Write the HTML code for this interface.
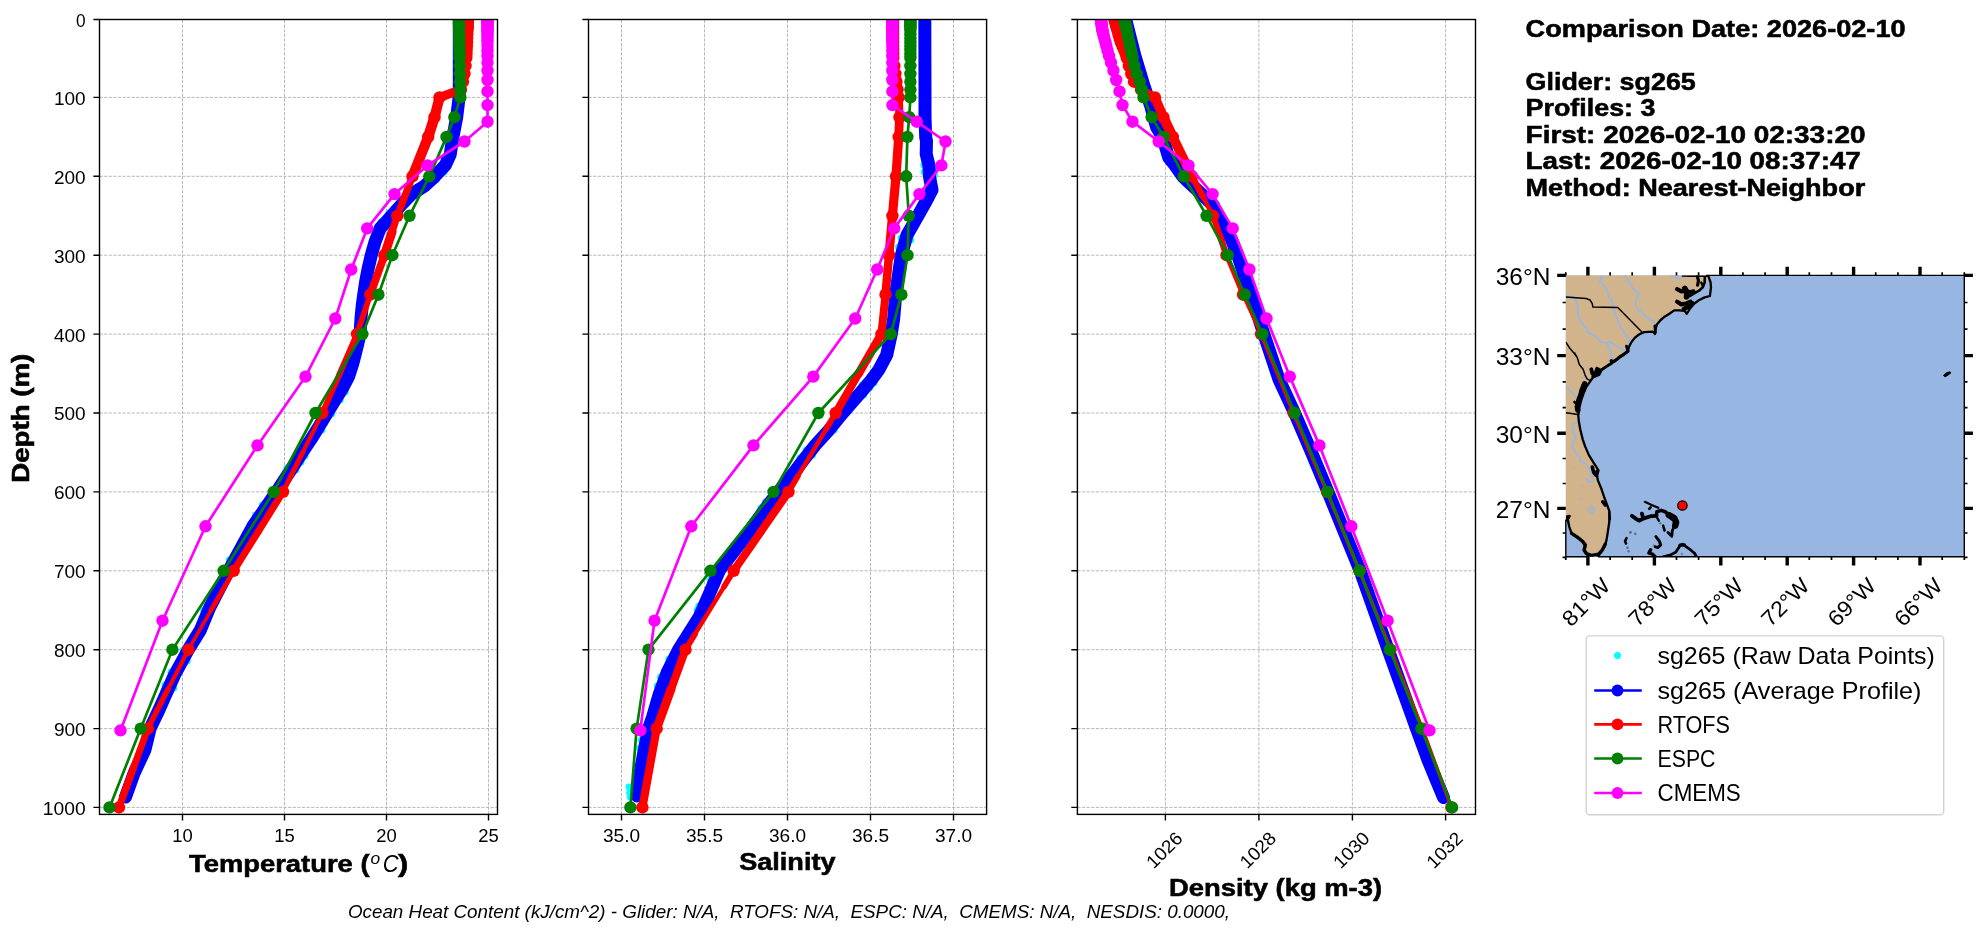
<!DOCTYPE html>
<html><head><meta charset="utf-8"><title>Glider vs Model Profile Comparison</title>
<style>
html,body{margin:0;padding:0;background:#fff;}
body{width:1976px;height:934px;overflow:hidden;font-family:"Liberation Sans", sans-serif;}
svg{display:block;font-family:"Liberation Sans", sans-serif;}
svg{will-change:transform;}
</style></head><body>
<svg width="1976" height="934" viewBox="0 0 1976 934">
<rect width="1976" height="934" fill="#fff"/>
<clipPath id="c1"><rect x="99.5" y="19.5" width="398" height="794.9"/></clipPath>
<path d="M99.5 97.4H497.5M99.5 176.3H497.5M99.5 255.2H497.5M99.5 334.1H497.5M99.5 413H497.5M99.5 491.9H497.5M99.5 570.8H497.5M99.5 649.7H497.5M99.5 728.6H497.5M99.5 807.4H497.5M182.5 814.4V19.5M284.5 814.4V19.5M386.5 814.4V19.5M488.5 814.4V19.5" stroke="#b0b0b0" stroke-width="0.9" stroke-dasharray="3.2 1.4" fill="none"/>
<g clip-path="url(#c1)"><circle cx="287.1" cy="468" r="3.6" fill="#00ffff"/><circle cx="295.8" cy="470" r="3.6" fill="#00ffff"/><circle cx="262.4" cy="505" r="3.6" fill="#00ffff"/><circle cx="255.6" cy="515" r="3.6" fill="#00ffff"/><circle cx="345.1" cy="392" r="3.6" fill="#00ffff"/><circle cx="340.1" cy="400" r="3.6" fill="#00ffff"/><circle cx="331.5" cy="414" r="3.6" fill="#00ffff"/><circle cx="321.8" cy="430" r="3.6" fill="#00ffff"/><circle cx="304.9" cy="456" r="3.6" fill="#00ffff"/><circle cx="301" cy="462" r="3.6" fill="#00ffff"/><circle cx="443.9" cy="172" r="3.6" fill="#00ffff"/><circle cx="435.9" cy="180" r="3.6" fill="#00ffff"/><circle cx="203.7" cy="610" r="3.6" fill="#00ffff"/><circle cx="187.1" cy="661" r="3.6" fill="#00ffff"/><circle cx="171.1" cy="672" r="3.6" fill="#00ffff"/><circle cx="165" cy="685" r="3.6" fill="#00ffff"/><circle cx="173.7" cy="688" r="3.6" fill="#00ffff"/><circle cx="210.1" cy="597" r="3.6" fill="#00ffff"/><circle cx="229.4" cy="560" r="3.6" fill="#00ffff"/><circle cx="389" cy="213" r="3.6" fill="#00ffff"/><circle cx="381" cy="222" r="3.6" fill="#00ffff"/><circle cx="183.2" cy="650" r="3.6" fill="#00ffff"/></g>
<polyline clip-path="url(#c1)" points="459.3,19.5 459.3,90 458.8,100 456.7,117.3 452.9,137.2 450.2,154.5 445.4,165 435,176.2 424.5,186 411.7,194 402,204 394,213 386,222 380.2,228.2 375,242 371.2,255.5 368,269.3 365.5,282.4 363.8,294.1 362.3,305 361,318.4 360,334.2 356.9,347.5 353.1,362.5 348.6,376.4 342.6,388 335.1,400 326.9,413.4 318.7,427 311.2,439 302.2,452.4 295.4,463 276.7,491.5 252.7,526.5 228.7,570.5 209.7,607.5 200.4,630 188.7,649 174.5,675 164.5,697.4 159.2,709.4 150.2,728.2 144.9,750 134.4,772.4 125.5,797" fill="none" stroke="#0000ff" stroke-width="13" stroke-linejoin="round" stroke-linecap="round"/>
<g clip-path="url(#c1)" stroke="#ff0000" stroke-linecap="round" fill="none"><line x1="468" y1="18.6" x2="463" y2="81.7" stroke-width="3"/><line x1="463" y1="81.7" x2="461" y2="89.6" stroke-width="5.5"/><line x1="461" y1="89.6" x2="439.5" y2="97.4" stroke-width="9"/><line x1="439.5" y1="97.4" x2="434.5" y2="117.2" stroke-width="10.2"/><line x1="434.5" y1="117.2" x2="428.2" y2="136.9" stroke-width="10.5"/><line x1="428.2" y1="136.9" x2="412.5" y2="176.3" stroke-width="10.2"/><line x1="412.5" y1="176.3" x2="400.3" y2="207.9" stroke-width="7.2"/><line x1="400.3" y1="207.9" x2="397.3" y2="215.8" stroke-width="4.8"/><line x1="397.3" y1="215.8" x2="392.1" y2="231.6" stroke-width="7"/><line x1="392.1" y1="231.6" x2="384.4" y2="255.2" stroke-width="9"/><line x1="384.4" y1="255.2" x2="370.2" y2="294.7" stroke-width="7.8"/><line x1="370.2" y1="294.7" x2="357" y2="334.1" stroke-width="5.8"/><line x1="357" y1="334.1" x2="339.7" y2="373.6" stroke-width="6"/><line x1="339.7" y1="373.6" x2="322.4" y2="413" stroke-width="5.8"/><line x1="322.4" y1="413" x2="302.7" y2="452.4" stroke-width="4.2"/><line x1="302.7" y1="452.4" x2="283" y2="491.9" stroke-width="5"/><line x1="283" y1="491.9" x2="258.4" y2="531.3" stroke-width="7"/><line x1="258.4" y1="531.3" x2="233.7" y2="570.8" stroke-width="7"/><line x1="233.7" y1="570.8" x2="211.1" y2="610.2" stroke-width="4.8"/><line x1="211.1" y1="610.2" x2="188.4" y2="649.7" stroke-width="3.5"/><line x1="188.4" y1="649.7" x2="168.1" y2="689.1" stroke-width="4.2"/><line x1="168.1" y1="689.1" x2="147.8" y2="728.6" stroke-width="5.5"/><line x1="147.8" y1="728.6" x2="133.4" y2="768" stroke-width="6.8"/><line x1="133.4" y1="768" x2="119" y2="807.4" stroke-width="7.2"/></g>
<g clip-path="url(#c1)"><polyline points="468,18.6 467.9,20.1 467.9,21.7 467.8,23.3 467.7,24.9 467.7,26.4 467.6,28 467.5,30.4 467.3,34.3 467.1,38.3 467,42.2 466.8,46.2 466.6,50.1 466.5,54.1 466.3,58 465.5,65.9 464.5,73.8 463,81.7 461,89.6 439.5,97.4 434.5,117.2 428.2,136.9 412.5,176.3 397.3,215.8 384.4,255.2 370.2,294.7 357,334.1 322.4,413 283,491.9 233.7,570.8 188.4,649.7 147.8,728.6 119,807.4" fill="none" stroke="#ff0000" stroke-width="2.7" stroke-linejoin="round"/>
<circle cx="468" cy="18.6" r="6.2" fill="#ff0000"/><circle cx="467.9" cy="20.1" r="6.2" fill="#ff0000"/><circle cx="467.9" cy="21.7" r="6.2" fill="#ff0000"/><circle cx="467.8" cy="23.3" r="6.2" fill="#ff0000"/><circle cx="467.7" cy="24.9" r="6.2" fill="#ff0000"/><circle cx="467.7" cy="26.4" r="6.2" fill="#ff0000"/><circle cx="467.6" cy="28" r="6.2" fill="#ff0000"/><circle cx="467.5" cy="30.4" r="6.2" fill="#ff0000"/><circle cx="467.3" cy="34.3" r="6.2" fill="#ff0000"/><circle cx="467.1" cy="38.3" r="6.2" fill="#ff0000"/><circle cx="467" cy="42.2" r="6.2" fill="#ff0000"/><circle cx="466.8" cy="46.2" r="6.2" fill="#ff0000"/><circle cx="466.6" cy="50.1" r="6.2" fill="#ff0000"/><circle cx="466.5" cy="54.1" r="6.2" fill="#ff0000"/><circle cx="466.3" cy="58" r="6.2" fill="#ff0000"/><circle cx="465.5" cy="65.9" r="6.2" fill="#ff0000"/><circle cx="464.5" cy="73.8" r="6.2" fill="#ff0000"/><circle cx="463" cy="81.7" r="6.2" fill="#ff0000"/><circle cx="461" cy="89.6" r="6.2" fill="#ff0000"/><circle cx="439.5" cy="97.4" r="6.2" fill="#ff0000"/><circle cx="434.5" cy="117.2" r="6.2" fill="#ff0000"/><circle cx="428.2" cy="136.9" r="6.2" fill="#ff0000"/><circle cx="412.5" cy="176.3" r="6.2" fill="#ff0000"/><circle cx="397.3" cy="215.8" r="6.2" fill="#ff0000"/><circle cx="384.4" cy="255.2" r="6.2" fill="#ff0000"/><circle cx="370.2" cy="294.7" r="6.2" fill="#ff0000"/><circle cx="357" cy="334.1" r="6.2" fill="#ff0000"/><circle cx="322.4" cy="413" r="6.2" fill="#ff0000"/><circle cx="283" cy="491.9" r="6.2" fill="#ff0000"/><circle cx="233.7" cy="570.8" r="6.2" fill="#ff0000"/><circle cx="188.4" cy="649.7" r="6.2" fill="#ff0000"/><circle cx="147.8" cy="728.6" r="6.2" fill="#ff0000"/><circle cx="119" cy="807.4" r="6.2" fill="#ff0000"/></g>
<g clip-path="url(#c1)"><polyline points="458.9,18.6 458.9,20.1 459,21.7 459,23.3 459,24.9 459,26.4 459.1,28 459.1,30.4 459.2,34.3 459.3,38.3 459.3,42.2 459.4,46.2 459.5,50.1 459.6,54.1 459.6,58 459.8,65.9 459.9,73.8 460.1,81.7 460.2,89.6 460.4,97.4 454.4,117.2 446.5,136.9 429.3,176.3 409.5,215.8 392.4,255.2 378.4,294.7 362.4,334.1 315.5,413 273.7,491.9 223.6,570.8 172.4,649.7 140.7,728.6 109.5,807.4" fill="none" stroke="#008000" stroke-width="2.7" stroke-linejoin="round"/>
<circle cx="458.9" cy="18.6" r="6.2" fill="#008000"/><circle cx="458.9" cy="20.1" r="6.2" fill="#008000"/><circle cx="459" cy="21.7" r="6.2" fill="#008000"/><circle cx="459" cy="23.3" r="6.2" fill="#008000"/><circle cx="459" cy="24.9" r="6.2" fill="#008000"/><circle cx="459" cy="26.4" r="6.2" fill="#008000"/><circle cx="459.1" cy="28" r="6.2" fill="#008000"/><circle cx="459.1" cy="30.4" r="6.2" fill="#008000"/><circle cx="459.2" cy="34.3" r="6.2" fill="#008000"/><circle cx="459.3" cy="38.3" r="6.2" fill="#008000"/><circle cx="459.3" cy="42.2" r="6.2" fill="#008000"/><circle cx="459.4" cy="46.2" r="6.2" fill="#008000"/><circle cx="459.5" cy="50.1" r="6.2" fill="#008000"/><circle cx="459.6" cy="54.1" r="6.2" fill="#008000"/><circle cx="459.6" cy="58" r="6.2" fill="#008000"/><circle cx="459.8" cy="65.9" r="6.2" fill="#008000"/><circle cx="459.9" cy="73.8" r="6.2" fill="#008000"/><circle cx="460.1" cy="81.7" r="6.2" fill="#008000"/><circle cx="460.2" cy="89.6" r="6.2" fill="#008000"/><circle cx="460.4" cy="97.4" r="6.2" fill="#008000"/><circle cx="454.4" cy="117.2" r="6.2" fill="#008000"/><circle cx="446.5" cy="136.9" r="6.2" fill="#008000"/><circle cx="429.3" cy="176.3" r="6.2" fill="#008000"/><circle cx="409.5" cy="215.8" r="6.2" fill="#008000"/><circle cx="392.4" cy="255.2" r="6.2" fill="#008000"/><circle cx="378.4" cy="294.7" r="6.2" fill="#008000"/><circle cx="362.4" cy="334.1" r="6.2" fill="#008000"/><circle cx="315.5" cy="413" r="6.2" fill="#008000"/><circle cx="273.7" cy="491.9" r="6.2" fill="#008000"/><circle cx="223.6" cy="570.8" r="6.2" fill="#008000"/><circle cx="172.4" cy="649.7" r="6.2" fill="#008000"/><circle cx="140.7" cy="728.6" r="6.2" fill="#008000"/><circle cx="109.5" cy="807.4" r="6.2" fill="#008000"/></g>
<g clip-path="url(#c1)"><polyline points="487.5,18.9 487.5,19.8 487.5,20.7 487.5,21.6 487.5,22.6 487.5,23.6 487.5,24.8 487.5,26.1 487.5,27.6 487.5,29.2 487.5,31 487.5,33.2 487.5,35.6 487.5,38.4 487.5,41.8 487.5,45.7 487.5,50.4 487.5,56 487.5,62.6 487.5,70.5 487.5,80 487.5,91.4 487.5,105.1 487.5,121.7 464.5,141.5 427.5,165.4 394.5,194.1 367.2,228.4 351.2,269.5 335.3,318.5 305.5,376.6 257.5,445.4 205.5,526.3 162.5,620.7 120.5,730.4" fill="none" stroke="#ff00ff" stroke-width="2.7" stroke-linejoin="round"/>
<circle cx="487.5" cy="18.9" r="6.2" fill="#ff00ff"/><circle cx="487.5" cy="19.8" r="6.2" fill="#ff00ff"/><circle cx="487.5" cy="20.7" r="6.2" fill="#ff00ff"/><circle cx="487.5" cy="21.6" r="6.2" fill="#ff00ff"/><circle cx="487.5" cy="22.6" r="6.2" fill="#ff00ff"/><circle cx="487.5" cy="23.6" r="6.2" fill="#ff00ff"/><circle cx="487.5" cy="24.8" r="6.2" fill="#ff00ff"/><circle cx="487.5" cy="26.1" r="6.2" fill="#ff00ff"/><circle cx="487.5" cy="27.6" r="6.2" fill="#ff00ff"/><circle cx="487.5" cy="29.2" r="6.2" fill="#ff00ff"/><circle cx="487.5" cy="31" r="6.2" fill="#ff00ff"/><circle cx="487.5" cy="33.2" r="6.2" fill="#ff00ff"/><circle cx="487.5" cy="35.6" r="6.2" fill="#ff00ff"/><circle cx="487.5" cy="38.4" r="6.2" fill="#ff00ff"/><circle cx="487.5" cy="41.8" r="6.2" fill="#ff00ff"/><circle cx="487.5" cy="45.7" r="6.2" fill="#ff00ff"/><circle cx="487.5" cy="50.4" r="6.2" fill="#ff00ff"/><circle cx="487.5" cy="56" r="6.2" fill="#ff00ff"/><circle cx="487.5" cy="62.6" r="6.2" fill="#ff00ff"/><circle cx="487.5" cy="70.5" r="6.2" fill="#ff00ff"/><circle cx="487.5" cy="80" r="6.2" fill="#ff00ff"/><circle cx="487.5" cy="91.4" r="6.2" fill="#ff00ff"/><circle cx="487.5" cy="105.1" r="6.2" fill="#ff00ff"/><circle cx="487.5" cy="121.7" r="6.2" fill="#ff00ff"/><circle cx="464.5" cy="141.5" r="6.2" fill="#ff00ff"/><circle cx="427.5" cy="165.4" r="6.2" fill="#ff00ff"/><circle cx="394.5" cy="194.1" r="6.2" fill="#ff00ff"/><circle cx="367.2" cy="228.4" r="6.2" fill="#ff00ff"/><circle cx="351.2" cy="269.5" r="6.2" fill="#ff00ff"/><circle cx="335.3" cy="318.5" r="6.2" fill="#ff00ff"/><circle cx="305.5" cy="376.6" r="6.2" fill="#ff00ff"/><circle cx="257.5" cy="445.4" r="6.2" fill="#ff00ff"/><circle cx="205.5" cy="526.3" r="6.2" fill="#ff00ff"/><circle cx="162.5" cy="620.7" r="6.2" fill="#ff00ff"/><circle cx="120.5" cy="730.4" r="6.2" fill="#ff00ff"/></g>
<rect x="99.5" y="19.5" width="398" height="794.9" fill="none" stroke="#000" stroke-width="1.4"/>
<path d="M99.5 19.5h-6.1M99.5 97.4h-6.1M99.5 176.3h-6.1M99.5 255.2h-6.1M99.5 334.1h-6.1M99.5 413h-6.1M99.5 491.9h-6.1M99.5 570.8h-6.1M99.5 649.7h-6.1M99.5 728.6h-6.1M99.5 807.4h-6.1M182.5 814.4v6.1M284.5 814.4v6.1M386.5 814.4v6.1M488.5 814.4v6.1" stroke="#000" stroke-width="1.4" fill="none"/>
<text x="76" y="26.9" font-size="18.32" textLength="9.6" lengthAdjust="spacingAndGlyphs">0</text>
<text x="53.9" y="104.8" font-size="18.32" textLength="31.7" lengthAdjust="spacingAndGlyphs">100</text>
<text x="53.9" y="183.7" font-size="18.32" textLength="31.7" lengthAdjust="spacingAndGlyphs">200</text>
<text x="53.9" y="262.6" font-size="18.32" textLength="31.7" lengthAdjust="spacingAndGlyphs">300</text>
<text x="53.9" y="341.5" font-size="18.32" textLength="31.7" lengthAdjust="spacingAndGlyphs">400</text>
<text x="53.9" y="420.4" font-size="18.32" textLength="31.7" lengthAdjust="spacingAndGlyphs">500</text>
<text x="53.9" y="499.3" font-size="18.32" textLength="31.7" lengthAdjust="spacingAndGlyphs">600</text>
<text x="53.9" y="578.2" font-size="18.32" textLength="31.7" lengthAdjust="spacingAndGlyphs">700</text>
<text x="53.9" y="657.1" font-size="18.32" textLength="31.7" lengthAdjust="spacingAndGlyphs">800</text>
<text x="53.9" y="736" font-size="18.32" textLength="31.7" lengthAdjust="spacingAndGlyphs">900</text>
<text x="42.8" y="814.8" font-size="18.32" textLength="42.8" lengthAdjust="spacingAndGlyphs">1000</text>
<text x="172.3" y="842" font-size="18.32" textLength="20.5" lengthAdjust="spacingAndGlyphs">10</text>
<text x="274.3" y="842" font-size="18.32" textLength="20.5" lengthAdjust="spacingAndGlyphs">15</text>
<text x="376.3" y="842" font-size="18.32" textLength="20.5" lengthAdjust="spacingAndGlyphs">20</text>
<text x="478.3" y="842" font-size="18.32" textLength="20.5" lengthAdjust="spacingAndGlyphs">25</text>
<clipPath id="c2"><rect x="588.5" y="19.5" width="398.1" height="794.9"/></clipPath>
<path d="M588.5 97.4H986.6M588.5 176.3H986.6M588.5 255.2H986.6M588.5 334.1H986.6M588.5 413H986.6M588.5 491.9H986.6M588.5 570.8H986.6M588.5 649.7H986.6M588.5 728.6H986.6M588.5 807.4H986.6M621.5 814.4V19.5M704.5 814.4V19.5M787.5 814.4V19.5M870.5 814.4V19.5M953.5 814.4V19.5" stroke="#b0b0b0" stroke-width="0.9" stroke-dasharray="3.2 1.4" fill="none"/>
<g clip-path="url(#c2)"><circle cx="923.9" cy="165" r="3.6" fill="#00ffff"/><circle cx="924.3" cy="172" r="3.6" fill="#00ffff"/><circle cx="934.1" cy="168" r="3.6" fill="#00ffff"/><circle cx="934.4" cy="175" r="3.6" fill="#00ffff"/><circle cx="901.2" cy="238" r="3.6" fill="#00ffff"/><circle cx="898.7" cy="247" r="3.6" fill="#00ffff"/><circle cx="910.6" cy="240" r="3.6" fill="#00ffff"/><circle cx="862.1" cy="385" r="3.6" fill="#00ffff"/><circle cx="869.5" cy="388" r="3.6" fill="#00ffff"/><circle cx="873.8" cy="383" r="3.6" fill="#00ffff"/><circle cx="863.5" cy="395" r="3.6" fill="#00ffff"/><circle cx="834" cy="430" r="3.6" fill="#00ffff"/><circle cx="806.4" cy="450" r="3.6" fill="#00ffff"/><circle cx="800.1" cy="458" r="3.6" fill="#00ffff"/><circle cx="812.5" cy="455" r="3.6" fill="#00ffff"/><circle cx="765.5" cy="502" r="3.6" fill="#00ffff"/><circle cx="761" cy="508" r="3.6" fill="#00ffff"/><circle cx="710.3" cy="580" r="3.6" fill="#00ffff"/><circle cx="697.3" cy="610" r="3.6" fill="#00ffff"/><circle cx="699" cy="606" r="3.6" fill="#00ffff"/><circle cx="689.7" cy="640" r="3.6" fill="#00ffff"/><circle cx="668.9" cy="659" r="3.6" fill="#00ffff"/><circle cx="660.5" cy="677" r="3.6" fill="#00ffff"/><circle cx="657.3" cy="686" r="3.6" fill="#00ffff"/><circle cx="641.3" cy="740" r="3.6" fill="#00ffff"/><circle cx="639.7" cy="748" r="3.6" fill="#00ffff"/><circle cx="920.1" cy="120" r="3.6" fill="#00ffff"/><circle cx="629" cy="787" r="3.4" fill="#00ffff"/><circle cx="629.5" cy="793" r="3.4" fill="#00ffff"/><circle cx="630.2" cy="797" r="3.4" fill="#00ffff"/></g>
<polyline clip-path="url(#c2)" points="924.8,19.5 925,97 925,117 925.7,137.4 926.5,141 926.2,154 929,165.5 929.5,176.5 932,190 926.5,200.5 917.5,216.6 907,235 901.3,255.5 899.5,268 895.7,294.5 893.7,318.5 891.2,334.4 886.7,355 878.7,370 871,380.4 862,391 842.4,413.5 829,430 815.4,445 803.5,460 792.2,475 778.7,491.4 768.2,505 742.7,540 719.4,570.4 710,592.4 699.2,617 678.7,649.5 667.2,672.4 659,695 652.5,717.4 648.7,728.2 643.8,752.5 639.7,775 637.2,796" fill="none" stroke="#0000ff" stroke-width="13" stroke-linejoin="round" stroke-linecap="round"/>
<g clip-path="url(#c2)" stroke="#ff0000" stroke-linecap="round" fill="none"><line x1="893" y1="18.6" x2="896.5" y2="81.7" stroke-width="3"/><line x1="896.5" y1="81.7" x2="897.6" y2="89.6" stroke-width="4.5"/><line x1="897.6" y1="89.6" x2="898.7" y2="97.4" stroke-width="7"/><line x1="898.7" y1="97.4" x2="899.5" y2="117.2" stroke-width="8.2"/><line x1="899.5" y1="117.2" x2="898.7" y2="136.9" stroke-width="8.8"/><line x1="898.7" y1="136.9" x2="896" y2="176.3" stroke-width="9.2"/><line x1="896" y1="176.3" x2="892.4" y2="215.8" stroke-width="9.2"/><line x1="892.4" y1="215.8" x2="889" y2="255.2" stroke-width="9"/><line x1="889" y1="255.2" x2="885.5" y2="294.7" stroke-width="8.5"/><line x1="885.5" y1="294.7" x2="881.4" y2="334.1" stroke-width="8"/><line x1="881.4" y1="334.1" x2="858.6" y2="373.6" stroke-width="8.5"/><line x1="858.6" y1="373.6" x2="835.7" y2="413" stroke-width="8"/><line x1="835.7" y1="413" x2="826.3" y2="428.8" stroke-width="5.8"/><line x1="826.3" y1="428.8" x2="797.9" y2="476.1" stroke-width="4.5"/><line x1="797.9" y1="476.1" x2="788.5" y2="491.9" stroke-width="5.8"/><line x1="788.5" y1="491.9" x2="761.1" y2="531.3" stroke-width="8"/><line x1="761.1" y1="531.3" x2="733.7" y2="570.8" stroke-width="8"/><line x1="733.7" y1="570.8" x2="724.1" y2="586.6" stroke-width="5.8"/><line x1="724.1" y1="586.6" x2="695.1" y2="633.9" stroke-width="4.5"/><line x1="695.1" y1="633.9" x2="685.5" y2="649.7" stroke-width="5.8"/><line x1="685.5" y1="649.7" x2="671.1" y2="689.1" stroke-width="8"/><line x1="671.1" y1="689.1" x2="656.7" y2="728.6" stroke-width="8.8"/><line x1="656.7" y1="728.6" x2="642.4" y2="807.4" stroke-width="8.2"/></g>
<g clip-path="url(#c2)"><polyline points="893,18.6 893,20.1 893,21.7 893,23.3 893,24.9 893,26.4 893,28 893.1,30.4 893.1,34.3 893.1,38.3 893.1,42.2 893.1,46.2 893.2,50.1 893.2,54.1 893.2,58 894.3,65.9 895.4,73.8 896.5,81.7 897.6,89.6 898.7,97.4 899.5,117.2 898.7,136.9 896,176.3 892.4,215.8 889,255.2 885.5,294.7 881.4,334.1 835.7,413 788.5,491.9 733.7,570.8 685.5,649.7 656.7,728.6 642.4,807.4" fill="none" stroke="#ff0000" stroke-width="2.7" stroke-linejoin="round"/>
<circle cx="893" cy="18.6" r="6.2" fill="#ff0000"/><circle cx="893" cy="20.1" r="6.2" fill="#ff0000"/><circle cx="893" cy="21.7" r="6.2" fill="#ff0000"/><circle cx="893" cy="23.3" r="6.2" fill="#ff0000"/><circle cx="893" cy="24.9" r="6.2" fill="#ff0000"/><circle cx="893" cy="26.4" r="6.2" fill="#ff0000"/><circle cx="893" cy="28" r="6.2" fill="#ff0000"/><circle cx="893.1" cy="30.4" r="6.2" fill="#ff0000"/><circle cx="893.1" cy="34.3" r="6.2" fill="#ff0000"/><circle cx="893.1" cy="38.3" r="6.2" fill="#ff0000"/><circle cx="893.1" cy="42.2" r="6.2" fill="#ff0000"/><circle cx="893.1" cy="46.2" r="6.2" fill="#ff0000"/><circle cx="893.2" cy="50.1" r="6.2" fill="#ff0000"/><circle cx="893.2" cy="54.1" r="6.2" fill="#ff0000"/><circle cx="893.2" cy="58" r="6.2" fill="#ff0000"/><circle cx="894.3" cy="65.9" r="6.2" fill="#ff0000"/><circle cx="895.4" cy="73.8" r="6.2" fill="#ff0000"/><circle cx="896.5" cy="81.7" r="6.2" fill="#ff0000"/><circle cx="897.6" cy="89.6" r="6.2" fill="#ff0000"/><circle cx="898.7" cy="97.4" r="6.2" fill="#ff0000"/><circle cx="899.5" cy="117.2" r="6.2" fill="#ff0000"/><circle cx="898.7" cy="136.9" r="6.2" fill="#ff0000"/><circle cx="896" cy="176.3" r="6.2" fill="#ff0000"/><circle cx="892.4" cy="215.8" r="6.2" fill="#ff0000"/><circle cx="889" cy="255.2" r="6.2" fill="#ff0000"/><circle cx="885.5" cy="294.7" r="6.2" fill="#ff0000"/><circle cx="881.4" cy="334.1" r="6.2" fill="#ff0000"/><circle cx="835.7" cy="413" r="6.2" fill="#ff0000"/><circle cx="788.5" cy="491.9" r="6.2" fill="#ff0000"/><circle cx="733.7" cy="570.8" r="6.2" fill="#ff0000"/><circle cx="685.5" cy="649.7" r="6.2" fill="#ff0000"/><circle cx="656.7" cy="728.6" r="6.2" fill="#ff0000"/><circle cx="642.4" cy="807.4" r="6.2" fill="#ff0000"/></g>
<g clip-path="url(#c2)"><polyline points="910.4,18.6 910.4,20.1 910.4,21.7 910.4,23.3 910.4,24.9 910.4,26.4 910.4,28 910.4,30.4 910.4,34.3 910.4,38.3 910.4,42.2 910.4,46.2 910.4,50.1 910.4,54.1 910.4,58 910.4,65.9 910.4,73.8 910.4,81.7 910.4,89.6 910.4,97.4 909.2,117.2 907.4,136.9 906.2,176.3 908.8,215.8 907.5,255.2 901.4,294.7 890.7,334.1 818.4,413 773.5,491.9 710.5,570.8 648.5,649.7 636.6,728.6 630.4,807.4" fill="none" stroke="#008000" stroke-width="2.7" stroke-linejoin="round"/>
<circle cx="910.4" cy="18.6" r="6.2" fill="#008000"/><circle cx="910.4" cy="20.1" r="6.2" fill="#008000"/><circle cx="910.4" cy="21.7" r="6.2" fill="#008000"/><circle cx="910.4" cy="23.3" r="6.2" fill="#008000"/><circle cx="910.4" cy="24.9" r="6.2" fill="#008000"/><circle cx="910.4" cy="26.4" r="6.2" fill="#008000"/><circle cx="910.4" cy="28" r="6.2" fill="#008000"/><circle cx="910.4" cy="30.4" r="6.2" fill="#008000"/><circle cx="910.4" cy="34.3" r="6.2" fill="#008000"/><circle cx="910.4" cy="38.3" r="6.2" fill="#008000"/><circle cx="910.4" cy="42.2" r="6.2" fill="#008000"/><circle cx="910.4" cy="46.2" r="6.2" fill="#008000"/><circle cx="910.4" cy="50.1" r="6.2" fill="#008000"/><circle cx="910.4" cy="54.1" r="6.2" fill="#008000"/><circle cx="910.4" cy="58" r="6.2" fill="#008000"/><circle cx="910.4" cy="65.9" r="6.2" fill="#008000"/><circle cx="910.4" cy="73.8" r="6.2" fill="#008000"/><circle cx="910.4" cy="81.7" r="6.2" fill="#008000"/><circle cx="910.4" cy="89.6" r="6.2" fill="#008000"/><circle cx="910.4" cy="97.4" r="6.2" fill="#008000"/><circle cx="909.2" cy="117.2" r="6.2" fill="#008000"/><circle cx="907.4" cy="136.9" r="6.2" fill="#008000"/><circle cx="906.2" cy="176.3" r="6.2" fill="#008000"/><circle cx="908.8" cy="215.8" r="6.2" fill="#008000"/><circle cx="907.5" cy="255.2" r="6.2" fill="#008000"/><circle cx="901.4" cy="294.7" r="6.2" fill="#008000"/><circle cx="890.7" cy="334.1" r="6.2" fill="#008000"/><circle cx="818.4" cy="413" r="6.2" fill="#008000"/><circle cx="773.5" cy="491.9" r="6.2" fill="#008000"/><circle cx="710.5" cy="570.8" r="6.2" fill="#008000"/><circle cx="648.5" cy="649.7" r="6.2" fill="#008000"/><circle cx="636.6" cy="728.6" r="6.2" fill="#008000"/><circle cx="630.4" cy="807.4" r="6.2" fill="#008000"/></g>
<g clip-path="url(#c2)"><polyline points="892.2,18.9 892.2,19.8 892.2,20.7 892.2,21.6 892.2,22.6 892.2,23.6 892.2,24.8 892.2,26.1 892.2,27.6 892.2,29.2 892.2,31 892.2,33.2 892.2,35.6 892.2,38.4 892.3,41.8 892.3,45.7 892.3,50.4 892.3,56 892.3,62.6 892.3,70.5 892.3,80 892.4,91.4 892.4,105.1 916.7,121.7 945.5,141.5 941.4,165.4 919.4,194.1 894.2,228.4 877.2,269.5 855.2,318.5 813.3,376.6 753.5,445.4 691.3,526.3 654.5,620.7 640.3,730.4" fill="none" stroke="#ff00ff" stroke-width="2.7" stroke-linejoin="round"/>
<circle cx="892.2" cy="18.9" r="6.2" fill="#ff00ff"/><circle cx="892.2" cy="19.8" r="6.2" fill="#ff00ff"/><circle cx="892.2" cy="20.7" r="6.2" fill="#ff00ff"/><circle cx="892.2" cy="21.6" r="6.2" fill="#ff00ff"/><circle cx="892.2" cy="22.6" r="6.2" fill="#ff00ff"/><circle cx="892.2" cy="23.6" r="6.2" fill="#ff00ff"/><circle cx="892.2" cy="24.8" r="6.2" fill="#ff00ff"/><circle cx="892.2" cy="26.1" r="6.2" fill="#ff00ff"/><circle cx="892.2" cy="27.6" r="6.2" fill="#ff00ff"/><circle cx="892.2" cy="29.2" r="6.2" fill="#ff00ff"/><circle cx="892.2" cy="31" r="6.2" fill="#ff00ff"/><circle cx="892.2" cy="33.2" r="6.2" fill="#ff00ff"/><circle cx="892.2" cy="35.6" r="6.2" fill="#ff00ff"/><circle cx="892.2" cy="38.4" r="6.2" fill="#ff00ff"/><circle cx="892.3" cy="41.8" r="6.2" fill="#ff00ff"/><circle cx="892.3" cy="45.7" r="6.2" fill="#ff00ff"/><circle cx="892.3" cy="50.4" r="6.2" fill="#ff00ff"/><circle cx="892.3" cy="56" r="6.2" fill="#ff00ff"/><circle cx="892.3" cy="62.6" r="6.2" fill="#ff00ff"/><circle cx="892.3" cy="70.5" r="6.2" fill="#ff00ff"/><circle cx="892.3" cy="80" r="6.2" fill="#ff00ff"/><circle cx="892.4" cy="91.4" r="6.2" fill="#ff00ff"/><circle cx="892.4" cy="105.1" r="6.2" fill="#ff00ff"/><circle cx="916.7" cy="121.7" r="6.2" fill="#ff00ff"/><circle cx="945.5" cy="141.5" r="6.2" fill="#ff00ff"/><circle cx="941.4" cy="165.4" r="6.2" fill="#ff00ff"/><circle cx="919.4" cy="194.1" r="6.2" fill="#ff00ff"/><circle cx="894.2" cy="228.4" r="6.2" fill="#ff00ff"/><circle cx="877.2" cy="269.5" r="6.2" fill="#ff00ff"/><circle cx="855.2" cy="318.5" r="6.2" fill="#ff00ff"/><circle cx="813.3" cy="376.6" r="6.2" fill="#ff00ff"/><circle cx="753.5" cy="445.4" r="6.2" fill="#ff00ff"/><circle cx="691.3" cy="526.3" r="6.2" fill="#ff00ff"/><circle cx="654.5" cy="620.7" r="6.2" fill="#ff00ff"/><circle cx="640.3" cy="730.4" r="6.2" fill="#ff00ff"/></g>
<rect x="588.5" y="19.5" width="398.1" height="794.9" fill="none" stroke="#000" stroke-width="1.4"/>
<path d="M588.5 19.5h-6.1M588.5 97.4h-6.1M588.5 176.3h-6.1M588.5 255.2h-6.1M588.5 334.1h-6.1M588.5 413h-6.1M588.5 491.9h-6.1M588.5 570.8h-6.1M588.5 649.7h-6.1M588.5 728.6h-6.1M588.5 807.4h-6.1M621.5 814.4v6.1M704.5 814.4v6.1M787.5 814.4v6.1M870.5 814.4v6.1M953.5 814.4v6.1" stroke="#000" stroke-width="1.4" fill="none"/>
<text x="603" y="842" font-size="18.32" textLength="37.1" lengthAdjust="spacingAndGlyphs">35.0</text>
<text x="686" y="842" font-size="18.32" textLength="37.1" lengthAdjust="spacingAndGlyphs">35.5</text>
<text x="769" y="842" font-size="18.32" textLength="37.1" lengthAdjust="spacingAndGlyphs">36.0</text>
<text x="852" y="842" font-size="18.32" textLength="37.1" lengthAdjust="spacingAndGlyphs">36.5</text>
<text x="935" y="842" font-size="18.32" textLength="37.1" lengthAdjust="spacingAndGlyphs">37.0</text>
<clipPath id="c3"><rect x="1077.4" y="19.5" width="398.1" height="794.9"/></clipPath>
<path d="M1077.4 97.4H1475.5M1077.4 176.3H1475.5M1077.4 255.2H1475.5M1077.4 334.1H1475.5M1077.4 413H1475.5M1077.4 491.9H1475.5M1077.4 570.8H1475.5M1077.4 649.7H1475.5M1077.4 728.6H1475.5M1077.4 807.4H1475.5M1165.4 814.4V19.5M1258.9 814.4V19.5M1352.4 814.4V19.5M1445.6 814.4V19.5" stroke="#b0b0b0" stroke-width="0.9" stroke-dasharray="3.2 1.4" fill="none"/>
<g clip-path="url(#c3)"><circle cx="1216.6" cy="204" r="3.6" fill="#00ffff"/><circle cx="1212.6" cy="200" r="3.6" fill="#00ffff"/></g>
<polyline clip-path="url(#c3)" points="1125.7,19.5 1134.7,55 1143.7,85 1150.7,105.9 1153.7,117.2 1156.7,127.5 1162.7,137.4 1168.7,157.5 1174.7,165 1183,176.7 1191.2,184.5 1201.7,194.2 1213,205.4 1219,216.4 1225.7,228.2 1231.7,240 1237.7,255 1250.4,294.3 1258.7,318.2 1264,334.4 1272.5,360 1279,379.4 1294.7,413.2 1310.5,450 1327.7,491.2 1343.5,530 1360,570.4 1388,649.2 1416.5,728.5 1428,760 1443.5,797.4" fill="none" stroke="#0000ff" stroke-width="13" stroke-linejoin="round" stroke-linecap="round"/>
<g clip-path="url(#c3)" stroke="#ff0000" stroke-linecap="round" fill="none"><line x1="1114.3" y1="18.6" x2="1134.5" y2="83.2" stroke-width="3"/><line x1="1134.5" y1="83.2" x2="1141" y2="89.6" stroke-width="5.5"/><line x1="1141" y1="89.6" x2="1154.9" y2="97.4" stroke-width="8.5"/><line x1="1154.9" y1="97.4" x2="1163.4" y2="117.2" stroke-width="9.5"/><line x1="1163.4" y1="117.2" x2="1172.8" y2="136.9" stroke-width="10"/><line x1="1172.8" y1="136.9" x2="1192" y2="176.3" stroke-width="9.5"/><line x1="1192" y1="176.3" x2="1202.5" y2="196.1" stroke-width="6.5"/><line x1="1202.5" y1="196.1" x2="1213" y2="215.8" stroke-width="4.5"/><line x1="1213" y1="215.8" x2="1219.8" y2="235.5" stroke-width="6"/><line x1="1219.8" y1="235.5" x2="1226.5" y2="255.2" stroke-width="6.5"/><line x1="1226.5" y1="255.2" x2="1243" y2="294.7" stroke-width="4.8"/><line x1="1243" y1="294.7" x2="1261" y2="334.1" stroke-width="3.5"/><line x1="1261" y1="334.1" x2="1293.5" y2="413" stroke-width="3.5"/><line x1="1293.5" y1="413" x2="1327" y2="491.9" stroke-width="3.5"/><line x1="1327" y1="491.9" x2="1359.5" y2="570.8" stroke-width="3.5"/><line x1="1359.5" y1="570.8" x2="1390.5" y2="649.7" stroke-width="3.5"/><line x1="1390.5" y1="649.7" x2="1422.4" y2="728.6" stroke-width="3.5"/><line x1="1422.4" y1="728.6" x2="1451.4" y2="807.4" stroke-width="3.5"/></g>
<g clip-path="url(#c3)"><polyline points="1114.3,18.6 1114.7,20.1 1115.1,21.7 1115.6,23.3 1116,24.9 1116.4,26.4 1116.8,28 1117.5,30.4 1118.5,34.3 1119.6,38.3 1120.9,42.2 1122.5,46.2 1124.1,50.1 1125.7,54.1 1126.8,58 1128.9,65.9 1131.3,73.8 1134,81.7 1141,89.6 1154.9,97.4 1163.4,117.2 1172.8,136.9 1192,176.3 1213,215.8 1226.5,255.2 1243,294.7 1261,334.1 1293.5,413 1327,491.9 1359.5,570.8 1390.5,649.7 1422.4,728.6 1451.4,807.4" fill="none" stroke="#ff0000" stroke-width="2.7" stroke-linejoin="round"/>
<circle cx="1114.3" cy="18.6" r="6.2" fill="#ff0000"/><circle cx="1114.7" cy="20.1" r="6.2" fill="#ff0000"/><circle cx="1115.1" cy="21.7" r="6.2" fill="#ff0000"/><circle cx="1115.6" cy="23.3" r="6.2" fill="#ff0000"/><circle cx="1116" cy="24.9" r="6.2" fill="#ff0000"/><circle cx="1116.4" cy="26.4" r="6.2" fill="#ff0000"/><circle cx="1116.8" cy="28" r="6.2" fill="#ff0000"/><circle cx="1117.5" cy="30.4" r="6.2" fill="#ff0000"/><circle cx="1118.5" cy="34.3" r="6.2" fill="#ff0000"/><circle cx="1119.6" cy="38.3" r="6.2" fill="#ff0000"/><circle cx="1120.9" cy="42.2" r="6.2" fill="#ff0000"/><circle cx="1122.5" cy="46.2" r="6.2" fill="#ff0000"/><circle cx="1124.1" cy="50.1" r="6.2" fill="#ff0000"/><circle cx="1125.7" cy="54.1" r="6.2" fill="#ff0000"/><circle cx="1126.8" cy="58" r="6.2" fill="#ff0000"/><circle cx="1128.9" cy="65.9" r="6.2" fill="#ff0000"/><circle cx="1131.3" cy="73.8" r="6.2" fill="#ff0000"/><circle cx="1134" cy="81.7" r="6.2" fill="#ff0000"/><circle cx="1141" cy="89.6" r="6.2" fill="#ff0000"/><circle cx="1154.9" cy="97.4" r="6.2" fill="#ff0000"/><circle cx="1163.4" cy="117.2" r="6.2" fill="#ff0000"/><circle cx="1172.8" cy="136.9" r="6.2" fill="#ff0000"/><circle cx="1192" cy="176.3" r="6.2" fill="#ff0000"/><circle cx="1213" cy="215.8" r="6.2" fill="#ff0000"/><circle cx="1226.5" cy="255.2" r="6.2" fill="#ff0000"/><circle cx="1243" cy="294.7" r="6.2" fill="#ff0000"/><circle cx="1261" cy="334.1" r="6.2" fill="#ff0000"/><circle cx="1293.5" cy="413" r="6.2" fill="#ff0000"/><circle cx="1327" cy="491.9" r="6.2" fill="#ff0000"/><circle cx="1359.5" cy="570.8" r="6.2" fill="#ff0000"/><circle cx="1390.5" cy="649.7" r="6.2" fill="#ff0000"/><circle cx="1422.4" cy="728.6" r="6.2" fill="#ff0000"/><circle cx="1451.4" cy="807.4" r="6.2" fill="#ff0000"/></g>
<g clip-path="url(#c3)"><polyline points="1124.2,18.6 1124.5,20.1 1124.9,21.7 1125.2,23.3 1125.6,24.9 1125.9,26.4 1126.2,28 1126.7,30.4 1127.6,34.3 1128.4,38.3 1129.3,42.2 1130.1,46.2 1131,50.1 1131.8,54.1 1132.7,58 1134.4,65.9 1136.8,73.8 1139.8,81.7 1141.9,89.6 1143.5,97.4 1151.7,117.2 1163.5,136.9 1183.7,176.3 1206.6,215.8 1227.7,255.2 1244.8,294.7 1262.4,334.1 1294.7,413 1327.5,491.9 1359.5,570.8 1389.9,649.7 1421.4,728.6 1452.1,807.4" fill="none" stroke="#008000" stroke-width="2.7" stroke-linejoin="round"/>
<circle cx="1124.2" cy="18.6" r="6.2" fill="#008000"/><circle cx="1124.5" cy="20.1" r="6.2" fill="#008000"/><circle cx="1124.9" cy="21.7" r="6.2" fill="#008000"/><circle cx="1125.2" cy="23.3" r="6.2" fill="#008000"/><circle cx="1125.6" cy="24.9" r="6.2" fill="#008000"/><circle cx="1125.9" cy="26.4" r="6.2" fill="#008000"/><circle cx="1126.2" cy="28" r="6.2" fill="#008000"/><circle cx="1126.7" cy="30.4" r="6.2" fill="#008000"/><circle cx="1127.6" cy="34.3" r="6.2" fill="#008000"/><circle cx="1128.4" cy="38.3" r="6.2" fill="#008000"/><circle cx="1129.3" cy="42.2" r="6.2" fill="#008000"/><circle cx="1130.1" cy="46.2" r="6.2" fill="#008000"/><circle cx="1131" cy="50.1" r="6.2" fill="#008000"/><circle cx="1131.8" cy="54.1" r="6.2" fill="#008000"/><circle cx="1132.7" cy="58" r="6.2" fill="#008000"/><circle cx="1134.4" cy="65.9" r="6.2" fill="#008000"/><circle cx="1136.8" cy="73.8" r="6.2" fill="#008000"/><circle cx="1139.8" cy="81.7" r="6.2" fill="#008000"/><circle cx="1141.9" cy="89.6" r="6.2" fill="#008000"/><circle cx="1143.5" cy="97.4" r="6.2" fill="#008000"/><circle cx="1151.7" cy="117.2" r="6.2" fill="#008000"/><circle cx="1163.5" cy="136.9" r="6.2" fill="#008000"/><circle cx="1183.7" cy="176.3" r="6.2" fill="#008000"/><circle cx="1206.6" cy="215.8" r="6.2" fill="#008000"/><circle cx="1227.7" cy="255.2" r="6.2" fill="#008000"/><circle cx="1244.8" cy="294.7" r="6.2" fill="#008000"/><circle cx="1262.4" cy="334.1" r="6.2" fill="#008000"/><circle cx="1294.7" cy="413" r="6.2" fill="#008000"/><circle cx="1327.5" cy="491.9" r="6.2" fill="#008000"/><circle cx="1359.5" cy="570.8" r="6.2" fill="#008000"/><circle cx="1389.9" cy="649.7" r="6.2" fill="#008000"/><circle cx="1421.4" cy="728.6" r="6.2" fill="#008000"/><circle cx="1452.1" cy="807.4" r="6.2" fill="#008000"/></g>
<g clip-path="url(#c3)"><polyline points="1100.8,18.9 1100.9,19.8 1101,20.7 1101.2,21.6 1101.3,22.6 1101.5,23.6 1101.6,24.8 1101.8,26.1 1102,27.6 1102.2,29.2 1102.5,31 1103.1,33.2 1103.7,35.6 1104.4,38.4 1105.3,41.8 1106.3,45.7 1107.5,50.4 1109,56 1111,62.6 1113.4,70.5 1116.2,80 1119.5,91.4 1122.5,105.1 1132.5,121.7 1158.7,141.5 1188.5,165.4 1212.6,194.1 1232.7,228.4 1249.4,269.5 1266.5,318.5 1289.8,376.6 1319.4,445.4 1351.3,526.3 1387.6,620.7 1429.5,730.4" fill="none" stroke="#ff00ff" stroke-width="2.7" stroke-linejoin="round"/>
<circle cx="1100.8" cy="18.9" r="6.2" fill="#ff00ff"/><circle cx="1100.9" cy="19.8" r="6.2" fill="#ff00ff"/><circle cx="1101" cy="20.7" r="6.2" fill="#ff00ff"/><circle cx="1101.2" cy="21.6" r="6.2" fill="#ff00ff"/><circle cx="1101.3" cy="22.6" r="6.2" fill="#ff00ff"/><circle cx="1101.5" cy="23.6" r="6.2" fill="#ff00ff"/><circle cx="1101.6" cy="24.8" r="6.2" fill="#ff00ff"/><circle cx="1101.8" cy="26.1" r="6.2" fill="#ff00ff"/><circle cx="1102" cy="27.6" r="6.2" fill="#ff00ff"/><circle cx="1102.2" cy="29.2" r="6.2" fill="#ff00ff"/><circle cx="1102.5" cy="31" r="6.2" fill="#ff00ff"/><circle cx="1103.1" cy="33.2" r="6.2" fill="#ff00ff"/><circle cx="1103.7" cy="35.6" r="6.2" fill="#ff00ff"/><circle cx="1104.4" cy="38.4" r="6.2" fill="#ff00ff"/><circle cx="1105.3" cy="41.8" r="6.2" fill="#ff00ff"/><circle cx="1106.3" cy="45.7" r="6.2" fill="#ff00ff"/><circle cx="1107.5" cy="50.4" r="6.2" fill="#ff00ff"/><circle cx="1109" cy="56" r="6.2" fill="#ff00ff"/><circle cx="1111" cy="62.6" r="6.2" fill="#ff00ff"/><circle cx="1113.4" cy="70.5" r="6.2" fill="#ff00ff"/><circle cx="1116.2" cy="80" r="6.2" fill="#ff00ff"/><circle cx="1119.5" cy="91.4" r="6.2" fill="#ff00ff"/><circle cx="1122.5" cy="105.1" r="6.2" fill="#ff00ff"/><circle cx="1132.5" cy="121.7" r="6.2" fill="#ff00ff"/><circle cx="1158.7" cy="141.5" r="6.2" fill="#ff00ff"/><circle cx="1188.5" cy="165.4" r="6.2" fill="#ff00ff"/><circle cx="1212.6" cy="194.1" r="6.2" fill="#ff00ff"/><circle cx="1232.7" cy="228.4" r="6.2" fill="#ff00ff"/><circle cx="1249.4" cy="269.5" r="6.2" fill="#ff00ff"/><circle cx="1266.5" cy="318.5" r="6.2" fill="#ff00ff"/><circle cx="1289.8" cy="376.6" r="6.2" fill="#ff00ff"/><circle cx="1319.4" cy="445.4" r="6.2" fill="#ff00ff"/><circle cx="1351.3" cy="526.3" r="6.2" fill="#ff00ff"/><circle cx="1387.6" cy="620.7" r="6.2" fill="#ff00ff"/><circle cx="1429.5" cy="730.4" r="6.2" fill="#ff00ff"/></g>
<rect x="1077.4" y="19.5" width="398.1" height="794.9" fill="none" stroke="#000" stroke-width="1.4"/>
<path d="M1077.4 19.5h-6.1M1077.4 97.4h-6.1M1077.4 176.3h-6.1M1077.4 255.2h-6.1M1077.4 334.1h-6.1M1077.4 413h-6.1M1077.4 491.9h-6.1M1077.4 570.8h-6.1M1077.4 649.7h-6.1M1077.4 728.6h-6.1M1077.4 807.4h-6.1M1165.4 814.4v6.1M1258.9 814.4v6.1M1352.4 814.4v6.1M1445.6 814.4v6.1" stroke="#000" stroke-width="1.4" fill="none"/>
<text x="1143.1" y="856.3" font-size="18.32" textLength="42.6" lengthAdjust="spacingAndGlyphs" transform="rotate(-45 1164.4 850)">1026</text>
<text x="1236.6" y="856.3" font-size="18.32" textLength="42.6" lengthAdjust="spacingAndGlyphs" transform="rotate(-45 1257.9 850)">1028</text>
<text x="1330.1" y="856.3" font-size="18.32" textLength="42.6" lengthAdjust="spacingAndGlyphs" transform="rotate(-45 1351.4 850)">1030</text>
<text x="1423.3" y="856.3" font-size="18.32" textLength="42.6" lengthAdjust="spacingAndGlyphs" transform="rotate(-45 1444.6 850)">1032</text>
<text x="29.2" y="482.8" font-size="23.81" font-weight="bold" stroke="#000" stroke-width="0.55" textLength="129.1" lengthAdjust="spacingAndGlyphs" transform="rotate(-90 29.2 482.8)">Depth (m)</text>
<text x="189" y="871.7" font-size="23.81" font-weight="bold" stroke="#000" stroke-width="0.55" textLength="180.5" lengthAdjust="spacingAndGlyphs">Temperature (</text>
<text x="370.5" y="863.5" font-size="16.67" font-style="italic" textLength="9.7" lengthAdjust="spacingAndGlyphs">o</text>
<text x="382.8" y="871.7" font-size="23.81" font-style="italic" textLength="15.8" lengthAdjust="spacingAndGlyphs">C</text>
<text x="398.1" y="871.7" font-size="23.81" font-weight="bold" stroke="#000" stroke-width="0.55" textLength="10.3" lengthAdjust="spacingAndGlyphs">)</text>
<text x="739.2" y="869.8" font-size="23.81" font-weight="bold" stroke="#000" stroke-width="0.55" textLength="96.3" lengthAdjust="spacingAndGlyphs">Salinity</text>
<text x="1169.1" y="896.2" font-size="23.81" font-weight="bold" stroke="#000" stroke-width="0.55" textLength="212.9" lengthAdjust="spacingAndGlyphs">Density (kg m-3)</text>
<text x="347.9" y="917.9" font-size="18.32" font-style="italic" textLength="882.1" lengthAdjust="spacingAndGlyphs" xml:space="preserve">Ocean Heat Content (kJ/cm^2) - Glider: N/A,&#160; RTOFS: N/A,&#160; ESPC: N/A,&#160; CMEMS: N/A,&#160; NESDIS: 0.0000,</text>
<text x="1525.6" y="36.5" font-size="23.81" font-weight="bold" stroke="#000" stroke-width="0.55" textLength="380" lengthAdjust="spacingAndGlyphs">Comparison Date: 2026-02-10</text>
<text x="1525.6" y="89.6" font-size="23.81" font-weight="bold" stroke="#000" stroke-width="0.55" textLength="170.2" lengthAdjust="spacingAndGlyphs">Glider: sg265</text>
<text x="1525.6" y="116.2" font-size="23.81" font-weight="bold" stroke="#000" stroke-width="0.55" textLength="129.8" lengthAdjust="spacingAndGlyphs">Profiles: 3</text>
<text x="1525.6" y="142.7" font-size="23.81" font-weight="bold" stroke="#000" stroke-width="0.55" textLength="339.9" lengthAdjust="spacingAndGlyphs">First: 2026-02-10 02:33:20</text>
<text x="1525.6" y="169.2" font-size="23.81" font-weight="bold" stroke="#000" stroke-width="0.55" textLength="335.2" lengthAdjust="spacingAndGlyphs">Last: 2026-02-10 08:37:47</text>
<text x="1525.6" y="195.8" font-size="23.81" font-weight="bold" stroke="#000" stroke-width="0.55" textLength="339.6" lengthAdjust="spacingAndGlyphs">Method: Nearest-Neighbor</text>
<clipPath id="cm"><rect x="1565.8" y="275.4" width="398.5" height="281.4"/></clipPath>
<rect x="1565.8" y="275.4" width="398.5" height="281.4" fill="#97b6e1"/>
<g clip-path="url(#cm)">
<polygon points="1707.5,273.8 1708.9,277.6 1710.6,282.5 1711,287.3 1709.9,296 1704.6,297.4 1698.8,300.3 1694,303.7 1690.1,308.5 1686.7,313.8 1684.8,310.9 1679.5,310.4 1674.2,310.4 1669.4,313.8 1664.6,316.7 1660.7,320 1656.9,324.4 1655.4,329.7 1654.9,334 1653,331.6 1648.7,331.8 1643.9,332.1 1639,334.5 1634.7,337.9 1631.3,342.2 1628.9,347 1628,351.4 1623.6,354.3 1618.8,357.2 1617.8,358.7 1612.5,362.5 1607.2,365.9 1601.4,369.8 1596.6,374.1 1592.8,377.5 1589.9,381.8 1586.5,386.6 1583.6,393.4 1581.2,400.1 1579.3,407.8 1578.3,415.5 1578.8,421.3 1580.4,430 1582.8,439.6 1585.1,446.4 1588.9,455.1 1593.7,462.8 1598.6,470.5 1597.1,475.3 1597.8,480.1 1601.4,488.8 1604.3,497.5 1607.2,505.2 1609.6,511.9 1609.9,519.6 1609.2,512.2 1609.3,521.8 1607.9,531.4 1606.5,540.1 1604.5,546.9 1601,552.2 1597.1,557.5 1590.8,557.5 1586.5,554.1 1584.1,550.2 1585.3,545.9 1582.4,541.1 1577.3,537.2 1571.6,533.4 1569.2,526.6 1567.7,518.9 1569.6,516 1565.8,517 1563.8,273.4" fill="#d2b48c"/>
<polygon points="1704.6,285.8 1707.3,279.6 1709.4,282.5 1710.2,287.3 1709,295.5 1702.7,298.1 1694.9,301.9 1690.3,306.1 1688.7,300.8 1689.6,296.4 1694.5,293.8 1699.3,290.9 1703.1,287.8" fill="#97b6e1"/>
<polyline points="1600.5,275.2 1602.4,277.6 1599.5,280.5 1601.4,283.4 1605.3,287.3 1608.2,292.1 1608.2,296.9 1612,299.8 1613,305.6 1612.5,307.5 1614.9,313.3 1617.8,320 1620.7,327.8 1625.5,334.5 1629.4,339.3 1628.4,344.1" fill="none" stroke="#97b6e1" stroke-width="1.8" stroke-linejoin="round" stroke-linecap="round"/>
<polyline points="1624.1,275.2 1629.4,282.5 1633.3,289.2 1639,294 1636.1,298.8 1636.1,306.6 1640,311.4 1646.7,317.2 1652.5,321 1655.4,324.9" fill="none" stroke="#97b6e1" stroke-width="1.8" stroke-linejoin="round" stroke-linecap="round"/>
<polyline points="1566.3,296.1 1574.5,296.9 1574.5,298.8 1577.3,302.7 1578.3,316.2 1581.2,322.9 1586,327.8 1588,332.6 1595.7,336.4 1601.4,342.7 1606.3,342.7 1610.1,342.2 1617.8,347 1625.5,350.9" fill="none" stroke="#97b6e1" stroke-width="1.8" stroke-linejoin="round" stroke-linecap="round"/>
<polyline points="1606.3,343.2 1610.1,349.9 1612,357.6" fill="none" stroke="#97b6e1" stroke-width="1.8" stroke-linejoin="round" stroke-linecap="round"/>
<polyline points="1670.8,275.2 1678.6,279.1 1683.4,277.2" fill="none" stroke="#97b6e1" stroke-width="1.8" stroke-linejoin="round" stroke-linecap="round"/>
<polyline points="1610.1,350 1612,354.8 1611.1,359.6" fill="none" stroke="#97b6e1" stroke-width="1.8" stroke-linejoin="round" stroke-linecap="round"/>
<polyline points="1566.3,387.1 1571.6,392.4 1576.4,398.2" fill="none" stroke="#97b6e1" stroke-width="1.8" stroke-linejoin="round" stroke-linecap="round"/>
<polyline points="1578.8,422.3 1573.5,424.2 1572.5,429 1574.5,433.9 1575.4,439.6" fill="none" stroke="#97b6e1" stroke-width="1.8" stroke-linejoin="round" stroke-linecap="round"/>
<polyline points="1572.5,430 1575.4,435.8 1574.5,439.6 1572,444.5 1574.5,451.2 1579.3,457 1580.7,461.8 1585.1,463.3 1588.9,468.6 1591.8,475.3 1592.8,481.1 1588.9,482 1586,478.2" fill="none" stroke="#97b6e1" stroke-width="1.8" stroke-linejoin="round" stroke-linecap="round"/>
<polygon points="1586,509.8 1592.3,504 1596.1,508.8 1593.7,515.5 1589.9,514.1" fill="#b3b3b3"/>
<circle cx="1574" cy="467.8" r="1.3" fill="#b3b3b3"/>
<circle cx="1582" cy="485.9" r="1.3" fill="#b3b3b3"/>
<circle cx="1581.4" cy="498.9" r="1.3" fill="#b3b3b3"/>
<polyline points="1565.8,296.9 1586,298.4 1588,299.3 1589.9,299.8 1592.3,303.7 1592.8,307 1617.8,307.5 1641.9,332.1" fill="none" stroke="#000" stroke-width="1.5" stroke-linejoin="round"/>
<polyline points="1565.8,342.2 1569.6,348 1574.5,353.8 1577.3,357.6 1574.5,352.9 1577.3,357.7 1579.3,364.5 1583.1,369.3 1585.1,375.1 1587,378.9 1590.8,380.8" fill="none" stroke="#000" stroke-width="1.5" stroke-linejoin="round"/>
<polyline points="1565.8,412.7 1571.6,413.6 1577.8,414.4" fill="none" stroke="#000" stroke-width="1.5" stroke-linejoin="round"/>
<polyline points="1707.5,273.8 1708.9,277.6 1710.6,282.5 1711,287.3 1709.9,296 1704.6,297.4 1698.8,300.3 1694,303.7 1690.1,308.5 1686.7,313.8 1684.8,310.9 1679.5,310.4 1674.2,310.4 1669.4,313.8 1664.6,316.7 1660.7,320 1656.9,324.4 1655.4,329.7 1654.9,334 1653,331.6 1648.7,331.8 1643.9,332.1 1639,334.5 1634.7,337.9 1631.3,342.2 1628.9,347 1628,351.4 1623.6,354.3 1618.8,357.2 1617.8,358.7 1612.5,362.5 1607.2,365.9 1601.4,369.8 1596.6,374.1 1592.8,377.5 1589.9,381.8 1586.5,386.6 1583.6,393.4 1581.2,400.1 1579.3,407.8 1578.3,415.5 1578.8,421.3 1580.4,430 1582.8,439.6 1585.1,446.4 1588.9,455.1 1593.7,462.8 1598.6,470.5 1597.1,475.3 1597.8,480.1 1601.4,488.8 1604.3,497.5 1607.2,505.2 1609.6,511.9 1609.9,519.6 1609.2,512.2 1609.3,521.8 1607.9,531.4 1606.5,540.1 1604.5,546.9 1601,552.2 1597.1,557.5" fill="none" stroke="#000" stroke-width="2.3" stroke-linejoin="round"/>
<polyline points="1590.8,557.5 1586.5,554.1 1584.1,550.2 1585.3,545.9 1582.4,541.1 1577.3,537.2 1571.6,533.4 1569.2,526.6 1567.7,518.9 1569.6,516 1565.8,517" fill="none" stroke="#000" stroke-width="2.4" stroke-linejoin="round"/>
<polyline points="1681.9,275.7 1690.1,275.9 1698.8,276.1 1707.5,276.1" fill="none" stroke="#000" stroke-width="2"/>
<polyline points="1697.3,276.2 1698.5,280.5 1697.6,285.2" fill="none" stroke="#000" stroke-width="3.2" stroke-linejoin="round" stroke-linecap="round"/>
<polyline points="1704.8,277.2 1704.6,282.5 1702.8,287.3 1699,290.7 1694.2,293.4 1689.6,296.1" fill="none" stroke="#000" stroke-width="2.6" stroke-linejoin="round" stroke-linecap="round"/>
<polyline points="1701.2,282.5 1702.7,285.8" fill="none" stroke="#000" stroke-width="2.4" stroke-linejoin="round" stroke-linecap="round"/>
<polyline points="1677.1,289.2 1681.4,291.3 1686.3,290.9 1689.6,292.3 1693.5,291.4" fill="none" stroke="#000" stroke-width="4.2" stroke-linejoin="round" stroke-linecap="round"/>
<polyline points="1684.8,288.4 1687,292.6 1686.5,296.9" fill="none" stroke="#000" stroke-width="5.6" stroke-linejoin="round" stroke-linecap="round"/>
<polyline points="1677.1,301.7 1681.4,304.4 1686.3,303.5 1690.6,301.7" fill="none" stroke="#000" stroke-width="4.2" stroke-linejoin="round" stroke-linecap="round"/>
<polyline points="1683.9,309 1688.2,306.7 1692.5,303.5" fill="none" stroke="#000" stroke-width="4.6" stroke-linejoin="round" stroke-linecap="round"/>
<polyline points="1654.9,325.8 1655.4,332.6" fill="none" stroke="#000" stroke-width="2.8" stroke-linejoin="round" stroke-linecap="round"/>
<polyline points="1626.5,346.1 1627.5,349.9" fill="none" stroke="#000" stroke-width="2.8" stroke-linejoin="round" stroke-linecap="round"/>
<polyline points="1591.3,369.3 1592.3,373.6 1595.7,372.9 1597.1,368.8 1600.5,370.7 1598.6,374.3 1593.3,376.5" fill="none" stroke="#000" stroke-width="3.8" stroke-linejoin="round" stroke-linecap="round"/>
<polyline points="1584.6,383.7 1582,390.5 1580.8,395.3 1578.9,400.1 1577.3,406.9 1577.8,410.2" fill="none" stroke="#000" stroke-width="5.4" stroke-linejoin="round" stroke-linecap="round"/>
<polyline points="1574.5,402 1576.9,404" fill="none" stroke="#000" stroke-width="2.6" stroke-linejoin="round" stroke-linecap="round"/>
<polyline points="1611.1,360.8 1614,361.4 1619.8,356.9 1623.6,354.6 1628,351.2" fill="none" stroke="#000" stroke-width="3.2" stroke-linejoin="round" stroke-linecap="round"/>
<polyline points="1600.5,370.7 1606.3,366.6 1612,363" fill="none" stroke="#000" stroke-width="2.8" stroke-linejoin="round" stroke-linecap="round"/>
<polyline points="1592.3,467.1 1593.7,472.4 1596.1,475.3 1597.1,471.4" fill="none" stroke="#000" stroke-width="3.6" stroke-linejoin="round" stroke-linecap="round"/>
<polyline points="1602.9,501.8 1605.3,504.7" fill="none" stroke="#000" stroke-width="3.0" stroke-linejoin="round" stroke-linecap="round"/>
<polyline points="1568.7,517 1567.2,519.9" fill="none" stroke="#000" stroke-width="3.0" stroke-linejoin="round" stroke-linecap="round"/>
<polyline points="1571.6,533.4 1577.3,537.2 1582.4,541.1 1585.3,544.9 1584.1,550.2 1586.5,553.6 1591.8,555.5 1598.6,554.1 1602.4,549.8 1605.3,544" fill="none" stroke="#000" stroke-width="3.4" stroke-linejoin="round" stroke-linecap="round"/>
<polyline points="1602.4,501.6 1605.3,505.4" fill="none" stroke="#000" stroke-width="3.0" stroke-linejoin="round" stroke-linecap="round"/>
<polyline points="1631.8,515.8 1636.1,518.9 1639,520.7 1643.9,518.4 1650.6,516.2 1656.4,515.8" fill="none" stroke="#000" stroke-width="3.8" stroke-linejoin="round" stroke-linecap="round"/>
<polyline points="1641.9,513.6 1642.9,517" fill="none" stroke="#000" stroke-width="3.8" stroke-linejoin="round" stroke-linecap="round"/>
<polyline points="1644.8,501.8 1651.6,504.9 1658.3,507.8" fill="none" stroke="#000" stroke-width="2.2" stroke-linejoin="round" stroke-linecap="round"/>
<polyline points="1656.4,515.8 1656.9,511.7 1661.2,510.4 1665.1,511.7 1668.9,515.1 1671.8,518.9" fill="none" stroke="#000" stroke-width="3.6" stroke-linejoin="round" stroke-linecap="round"/>
<polyline points="1668.9,515.1 1674.2,518 1676.1,522.3 1675.2,525.7" fill="none" stroke="#000" stroke-width="6.5" stroke-linejoin="round" stroke-linecap="round"/>
<polyline points="1674.2,526.6 1672.3,530.5 1671.8,536.3 1668,532.4" fill="none" stroke="#000" stroke-width="2.8" stroke-linejoin="round" stroke-linecap="round"/>
<polyline points="1663.1,525.7 1664.6,530.5" fill="none" stroke="#000" stroke-width="2.6" stroke-linejoin="round" stroke-linecap="round"/>
<polyline points="1657.3,518 1658.8,520.8" fill="none" stroke="#000" stroke-width="2.4" stroke-linejoin="round" stroke-linecap="round"/>
<polyline points="1649.2,508.8 1650.6,507.3" fill="none" stroke="#000" stroke-width="2.6" stroke-linejoin="round" stroke-linecap="round"/>
<polyline points="1626.5,538.2 1625.1,541.1 1626,543.5" fill="none" stroke="#000" stroke-width="2.6" stroke-linejoin="round" stroke-linecap="round"/>
<polyline points="1650.6,549.8 1648.9,553.1 1652,553.8 1654.9,556.5" fill="none" stroke="#000" stroke-width="3.4" stroke-linejoin="round" stroke-linecap="round"/>
<polyline points="1655.9,536.7 1659.3,541.1 1660.7,544.9 1657.8,547.6 1655.4,546.9" fill="none" stroke="#000" stroke-width="3.0" stroke-linejoin="round" stroke-linecap="round"/>
<polyline points="1663.1,556.8 1670.8,554.8 1675.7,552.2 1679.5,546.4 1682.4,544.2 1685.3,546.1 1689.2,548.8 1694.9,553.6 1696.4,556.8" fill="none" stroke="#000" stroke-width="2.8" stroke-linejoin="round" stroke-linecap="round"/>
<polyline points="1680,545.1 1684.3,544.9" fill="none" stroke="#000" stroke-width="3.4" stroke-linejoin="round" stroke-linecap="round"/>
<circle cx="1630.4" cy="532.4" r="1.3" fill="#000" opacity="0.45"/>
<circle cx="1635.2" cy="533.9" r="1.3" fill="#000" opacity="0.35"/>
<circle cx="1627.5" cy="547.8" r="1.3" fill="#000" opacity="0.4"/>
<circle cx="1628.6" cy="551.2" r="1.3" fill="#000" opacity="0.35"/>
<circle cx="1654" cy="545.9" r="1.3" fill="#000" opacity="0.3"/>
<circle cx="1660.2" cy="523.3" r="1.3" fill="#000" opacity="0.3"/>
<circle cx="1681.9" cy="554.1" r="1.3" fill="#000" opacity="0.25"/>
<path d="M1943.5 375.3l3-2.6 3.6-0.9 0.6 1.3-3.4 2.6-2.6 1z" fill="#000" stroke="#000" stroke-width="1"/>
</g>
<path d="M1706 275.4H1964.3V556.8H1598M1589 556.8H1565.8V519.5" fill="none" stroke="#000" stroke-width="1.4"/>
<circle cx="1682.4" cy="505.5" r="4.7" fill="#ff0000" stroke="#000" stroke-width="1.3"/>
<path d="M1565.8 508.4h-8.6M1964.3 508.4h8.6M1565.8 433.2h-8.6M1964.3 433.2h8.6M1565.8 355.6h-8.6M1964.3 355.6h8.6M1565.8 275.4h-8.6M1964.3 275.4h8.6M1587.9 275.4v-8.6M1587.9 556.8v8.6M1654.4 275.4v-8.6M1654.4 556.8v8.6M1720.8 275.4v-8.6M1720.8 556.8v8.6M1787.2 275.4v-8.6M1787.2 556.8v8.6M1853.6 275.4v-8.6M1853.6 556.8v8.6M1920 275.4v-8.6M1920 556.8v8.6" stroke="#000" stroke-width="3.4" fill="none"/>
<path d="M1565.8 557.4h-3.2M1964.3 557.4h3.2M1565.8 533h-3.2M1964.3 533h3.2M1565.8 483.5h-3.2M1964.3 483.5h3.2M1565.8 458.5h-3.2M1964.3 458.5h3.2M1565.8 407.6h-3.2M1964.3 407.6h3.2M1565.8 381.8h-3.2M1964.3 381.8h3.2M1565.8 329.2h-3.2M1964.3 329.2h3.2M1565.8 302.5h-3.2M1964.3 302.5h3.2M1565.8 275.4v-3.2M1565.8 556.8v3.2M1610.1 275.4v-3.2M1610.1 556.8v3.2M1632.2 275.4v-3.2M1632.2 556.8v3.2M1676.5 275.4v-3.2M1676.5 556.8v3.2M1698.6 275.4v-3.2M1698.6 556.8v3.2M1742.9 275.4v-3.2M1742.9 556.8v3.2M1765.1 275.4v-3.2M1765.1 556.8v3.2M1809.3 275.4v-3.2M1809.3 556.8v3.2M1831.5 275.4v-3.2M1831.5 556.8v3.2M1875.7 275.4v-3.2M1875.7 556.8v3.2M1897.9 275.4v-3.2M1897.9 556.8v3.2M1942.2 275.4v-3.2M1942.2 556.8v3.2M1964.3 275.4v-3.2M1964.3 556.8v3.2" stroke="#000" stroke-width="1.7" fill="none"/>
<text x="1495.7" y="284.8" font-size="23.81" textLength="54.7" lengthAdjust="spacingAndGlyphs">36°N</text>
<text x="1495.7" y="365" font-size="23.81" textLength="54.7" lengthAdjust="spacingAndGlyphs">33°N</text>
<text x="1495.7" y="442.6" font-size="23.81" textLength="54.7" lengthAdjust="spacingAndGlyphs">30°N</text>
<text x="1495.7" y="517.8" font-size="23.81" textLength="54.7" lengthAdjust="spacingAndGlyphs">27°N</text>
<text x="1557.2" y="609.7" font-size="21.98" textLength="57.5" lengthAdjust="spacingAndGlyphs" transform="rotate(-45 1585.9 602)">81°W</text>
<text x="1623.6" y="609.7" font-size="21.98" textLength="57.5" lengthAdjust="spacingAndGlyphs" transform="rotate(-45 1652.4 602)">78°W</text>
<text x="1690" y="609.7" font-size="21.98" textLength="57.5" lengthAdjust="spacingAndGlyphs" transform="rotate(-45 1718.8 602)">75°W</text>
<text x="1756.4" y="609.7" font-size="21.98" textLength="57.5" lengthAdjust="spacingAndGlyphs" transform="rotate(-45 1785.2 602)">72°W</text>
<text x="1822.8" y="609.7" font-size="21.98" textLength="57.5" lengthAdjust="spacingAndGlyphs" transform="rotate(-45 1851.6 602)">69°W</text>
<text x="1889.3" y="609.7" font-size="21.98" textLength="57.5" lengthAdjust="spacingAndGlyphs" transform="rotate(-45 1918 602)">66°W</text>
<rect x="1586.2" y="635.9" width="357.5" height="178.9" rx="3.5" ry="3.5" fill="#fff" stroke="#d2d2d2" stroke-width="1.4"/>
<circle cx="1617.5" cy="655.5" r="3.5" fill="#00ffff"/>
<text x="1657.5" y="663.7" font-size="23.81" textLength="277.4" lengthAdjust="spacingAndGlyphs">sg265 (Raw Data Points)</text>
<path d="M1594.2 690.5H1641.8" stroke="#0000ff" stroke-width="2.7" fill="none"/><circle cx="1617.5" cy="690.5" r="5.9" fill="#0000ff"/>
<text x="1657.5" y="699" font-size="23.81" textLength="264" lengthAdjust="spacingAndGlyphs">sg265 (Average Profile)</text>
<path d="M1594.2 724.4H1641.8" stroke="#ff0000" stroke-width="2.7" fill="none"/><circle cx="1617.5" cy="724.4" r="5.9" fill="#ff0000"/>
<text x="1657.5" y="732.7" font-size="23.81" textLength="72.5" lengthAdjust="spacingAndGlyphs">RTOFS</text>
<path d="M1594.2 758.5H1641.8" stroke="#008000" stroke-width="2.7" fill="none"/><circle cx="1617.5" cy="758.5" r="5.9" fill="#008000"/>
<text x="1657.5" y="766.8" font-size="23.81" textLength="58" lengthAdjust="spacingAndGlyphs">ESPC</text>
<path d="M1594.2 793.0H1641.8" stroke="#ff00ff" stroke-width="2.7" fill="none"/><circle cx="1617.5" cy="793.0" r="5.9" fill="#ff00ff"/>
<text x="1657.5" y="800.6" font-size="23.81" textLength="83.3" lengthAdjust="spacingAndGlyphs">CMEMS</text>
</svg>
</body></html>
